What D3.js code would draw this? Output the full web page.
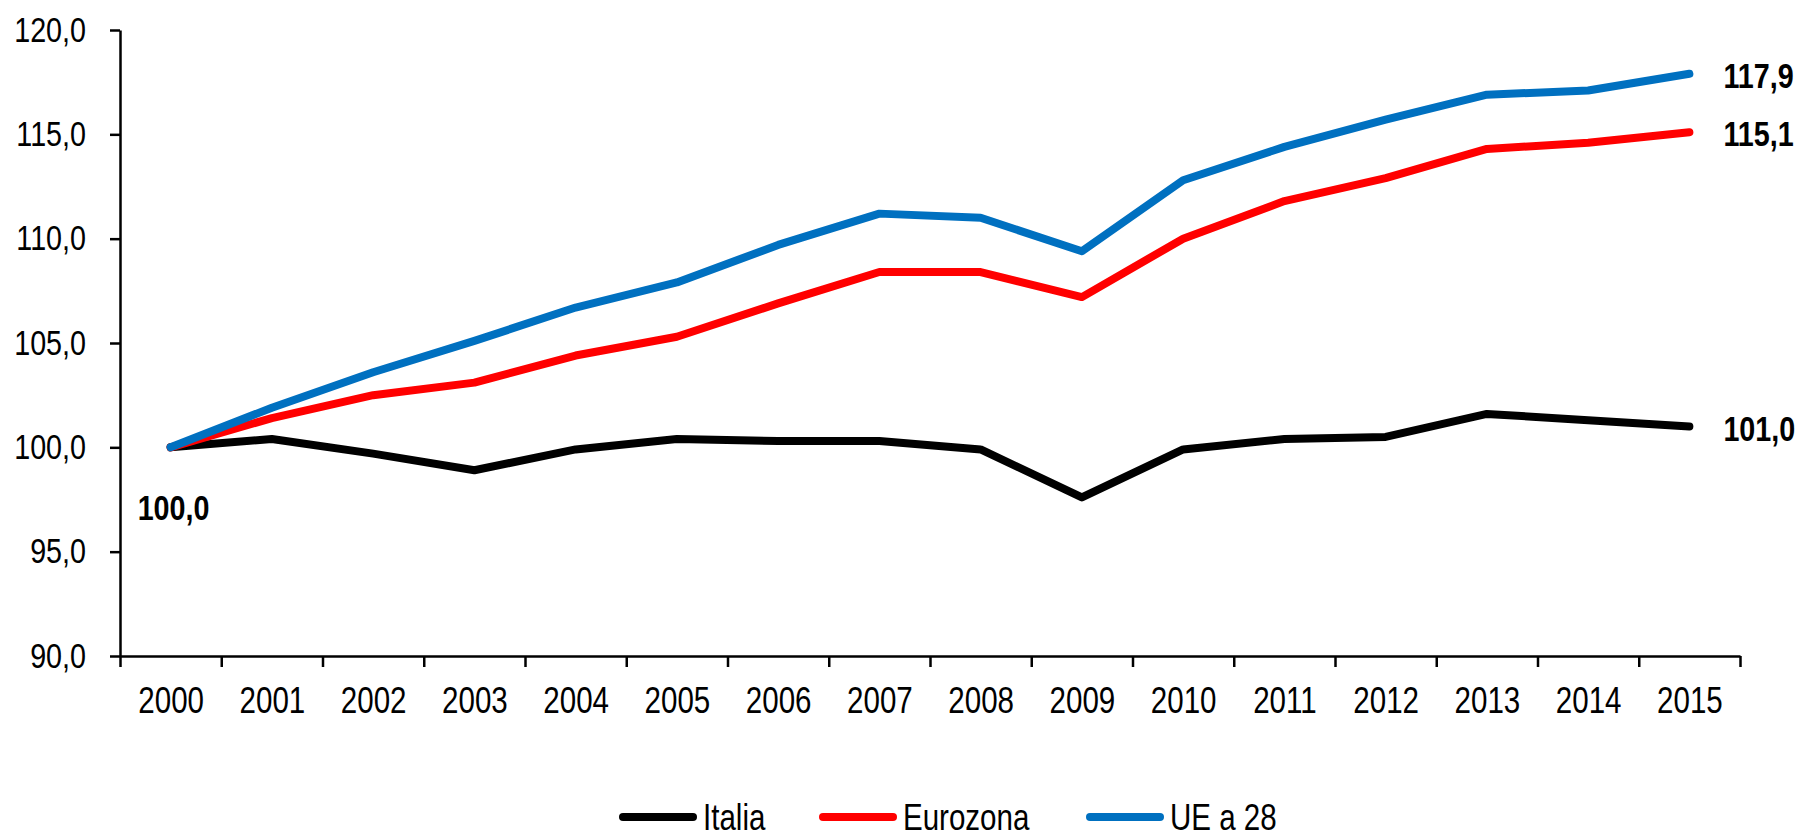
<!DOCTYPE html>
<html>
<head>
<meta charset="utf-8">
<script src="https://cdn.jsdelivr.net/npm/d3@7"></script>
<style>
  body { margin: 0; background: #fff; }
  svg text { font-family: "Liberation Sans", Arial, sans-serif; fill: #000; }
  .axis path, .axis line { stroke: #000; stroke-width: 2.5px; }
  .line { fill: none; stroke-width: 8px; stroke-linecap: round; stroke-linejoin: round; }
</style>
</head>
<body>
<div id="chart-container"></div>
<script>
var years = ['2000','2001','2002','2003','2004','2005','2006','2007','2008','2009','2010','2011','2012','2013','2014','2015']
var italia = [100.0, 100.4, 99.7, 98.9, 99.9, 100.4, 100.3, 100.3, 99.9, 97.6, 99.9, 100.4, 100.5, 101.6, 101.3, 101.0]
var eurozona = [100.0, 101.4, 102.5, 103.1, 104.4, 105.3, 106.9, 108.4, 108.4, 107.2, 110.0, 111.8, 112.9, 114.3, 114.6, 115.1]
var ue28 = [100.0, 101.9, 103.6, 105.1, 106.7, 107.9, 109.7, 111.2, 111.0, 109.4, 112.8, 114.4, 115.7, 116.9, 117.1, 117.9]
var yTicks = [90, 95, 100, 105, 110, 115, 120]
var seriesNames = ['Italia', 'Eurozona', 'UE a 28']
var seriesColors = ['#000000', '#ff0000', '#0070c0']

var WIDTH = 1803
var HEIGHT = 834
var margin = {top: 30, right: 63, bottom: 178, left: 120}
var NARROW = 0.82 // no condensed font installed, squeeze Liberation Sans instead

var fmt = function(v) { return d3.format('.1f')(v).replace('.', ',') }

var svg = d3.select('#chart-container')
  .append('svg')
  .attr('width', WIDTH)
  .attr('height', HEIGHT)

// index based x scale, so ticks can sit between the years
var xScale = d3.scaleLinear()
  .domain([-0.5, years.length - 0.5])
  .range([margin.left, WIDTH - margin.right])

var yScale = d3.scaleLinear()
  .domain([90, 120])
  .range([HEIGHT - margin.bottom, margin.top])

/* x axis: tick marks at boundaries */
svg.append('g')
  .attr('class', 'axis axis--x')
  .attr('transform', 'translate(0, ' + yScale(90) + ')')
  .call(d3.axisBottom(xScale)
    .tickValues(d3.range(-0.5, years.length))
    .tickSize(11)
    .tickSizeOuter(0)
    .tickFormat(''))

/* x labels at year centres */
svg.append('g')
  .attr('class', 'axis axis--xlabels')
  .attr('transform', 'translate(0, ' + yScale(90) + ')')
  .call(d3.axisBottom(xScale)
    .tickValues(d3.range(years.length))
    .tickSize(0)
    .tickPadding(31)
    .tickFormat(function(i) { return years[i] }))
  .call(function(g) {
    g.select('.domain').remove()
    g.selectAll('text').style('font-size', '36px')
  })

/* y axis */
svg.append('g')
  .attr('class', 'axis axis--y')
  .attr('transform', 'translate(' + margin.left + ', 0)')
  .call(d3.axisLeft(yScale)
    .tickValues(yTicks)
    .tickSize(10)
    .tickSizeOuter(0)
    .tickPadding(24)
    .tickFormat(fmt))
  .call(function(g) {
    g.selectAll('text').style('font-size', '35px')
  })

// lines
var lineGenerator = d3.line()
  .x(function(d, i) { return xScale(i) })
  .y(function(d) { return yScale(d) })

var allSeries = [italia, eurozona, ue28]
svg.append('g').attr('class', 'line-chart')
  .selectAll('path')
  .data(allSeries)
  .enter().append('path')
    .attr('class', 'line')
    .attr('stroke', function(d, i) { return seriesColors[i] })
    .attr('d', lineGenerator)

// value labels
var last = years.length - 1
var labels = svg.append('g').attr('class', 'value-labels')
  .style('font-size', '35px')
  .style('font-weight', 'bold')

labels.append('text')
  .attr('x', xScale(0) - 33)
  .attr('y', yScale(italia[0]) + 60)
  .attr('dy', '0.35em')
  .text(fmt(italia[0]))

allSeries.forEach(function(s) {
  labels.append('text')
    .attr('x', xScale(last) + 34)
    .attr('y', yScale(s[last]) + 2)
    .attr('dy', '0.35em')
    .text(fmt(s[last]))
})

// legend
var legendX = [623, 823, 1090]
var legend = svg.append('g').attr('class', 'legend')
  .attr('transform', 'translate(0, 817)')
var items = legend.selectAll('g')
  .data(seriesNames)
  .enter().append('g')
    .attr('transform', function(d, i) { return 'translate(' + legendX[i] + ', 0)' })
items.append('line')
  .attr('x1', 0).attr('x2', 70)
  .attr('y1', 0).attr('y2', 0)
  .attr('stroke', function(d, i) { return seriesColors[i] })
  .attr('stroke-width', 8)
  .attr('stroke-linecap', 'round')
items.append('text')
  .attr('x', 80)
  .attr('y', 13)
  .style('font-size', '36px')
  .text(function(d) { return d })

// condense every text
svg.selectAll('text').each(function() {
  var w = this.getComputedTextLength()
  d3.select(this)
    .attr('textLength', w * NARROW)
    .attr('lengthAdjust', 'spacingAndGlyphs')
})
</script>
</body>
</html>
